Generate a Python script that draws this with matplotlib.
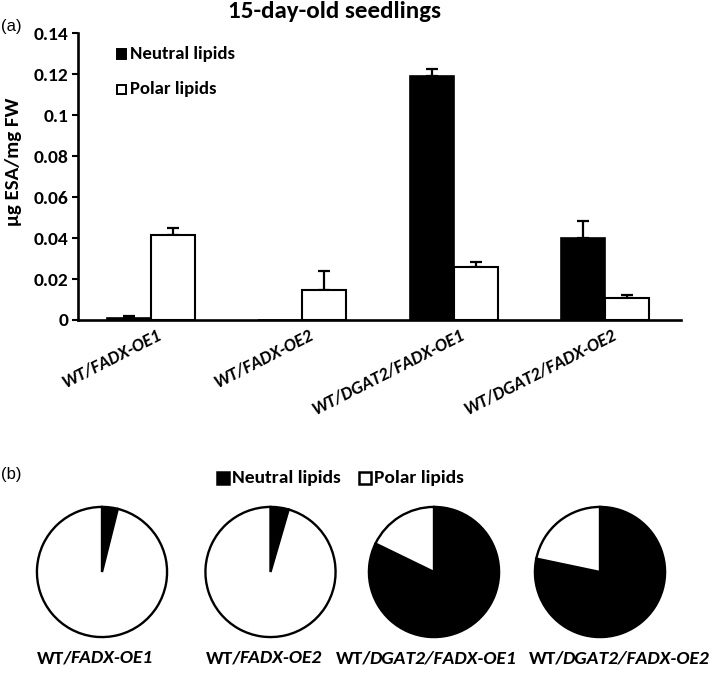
import matplotlib
matplotlib.use("Agg")
import matplotlib.pyplot as plt
import matplotlib.transforms as mtransforms
from matplotlib.patches import Rectangle
import numpy as np

plt.rcParams['font.family'] = ['Carlito', 'DejaVu Sans']

# ---------------- data ----------------
genotypes = ["WT/FADX-OE1", "WT/FADX-OE2", "WT/DGAT2/FADX-OE1", "WT/DGAT2/FADX-OE2"]
neutral = [0.0011, 0.0, 0.1193, 0.0400]
neutral_err = [0.0008, 0.0, 0.0033, 0.0081]
polar = [0.0414, 0.0146, 0.0257, 0.0107]
polar_err = [0.0036, 0.0093, 0.0026, 0.0015]
yticks = [0, 0.02, 0.04, 0.06, 0.08, 0.1, 0.12, 0.14]
ytick_labels = ["0", "0.02", "0.04", "0.06", "0.08", "0.1", "0.12", "0.14"]
pie_neutral_pct = [3.9, 4.5, 82.2, 78.3]
pie_polar_pct = [96.1, 95.5, 17.8, 21.7]
series = ["Neutral lipids", "Polar lipids"]

W, H = 709, 674
fig = plt.figure(figsize=(W / 100, H / 100), dpi=100)

def fx(px):
    return px / W

def fy(py):
    return 1 - py / H

# ---------------- (a) bar chart ----------------
ax = fig.add_axes([fx(77.5), fy(320), fx(681) - fx(77.5), fy(33.3) - fy(320)])
x = np.arange(len(genotypes))
bw = 0.29
ax.bar(x - bw / 2, neutral, width=bw, color="black", edgecolor="black", linewidth=1.2, zorder=2)
ax.bar(x + bw / 2, polar, width=bw, color="white", edgecolor="black", linewidth=1.5, zorder=2)

for xi, v, e in zip(x - bw / 2, neutral, neutral_err):
    if v > 0:
        ax.errorbar(xi, v, yerr=[[0], [e]], fmt="none", ecolor="black", elinewidth=1.6,
                    capsize=4.5, capthick=1.6, zorder=1)
for xi, v, e in zip(x + bw / 2, polar, polar_err):
    if v > 0:
        ax.errorbar(xi, v, yerr=[[0], [e]], fmt="none", ecolor="black", elinewidth=1.6,
                    capsize=4.5, capthick=1.6, zorder=1)

ax.set_xlim(-0.485, 3.5)
ax.set_ylim(0, 0.14)
ax.set_yticks(yticks)
ax.set_yticklabels(ytick_labels, fontsize=14, fontweight="bold")
for s in ["top", "right"]:
    ax.spines[s].set_visible(False)
for s in ["left", "bottom"]:
    ax.spines[s].set_linewidth(1.9)
ax.tick_params(axis="y", length=4, width=1.5, pad=2.5)
ax.tick_params(axis="x", length=0)
ax.set_xticks(x)
ax.set_xticklabels(genotypes, rotation=27, ha="right", va="center", rotation_mode="anchor",
                   fontsize=13, fontweight="bold", fontstyle="italic")
offset = mtransforms.ScaledTranslation(10 / 100, -9 / 100, fig.dpi_scale_trans)
for lab in ax.get_xticklabels():
    lab.set_transform(lab.get_transform() + offset)

# legend (a)
ax_leg_items = [("black", series[0], 54), ("white", series[1], 89)]
for col, txt, py in ax_leg_items:
    fig.patches.append(Rectangle((fx(117), fy(py + 4.5)), fx(9), fy(py - 4.5) - fy(py + 4.5),
                                 facecolor=col, edgecolor="black", linewidth=1.4,
                                 transform=fig.transFigure, figure=fig))
    fig.text(fx(130), fy(py), txt, fontsize=13.5, fontweight="bold", ha="left", va="center")

fig.text(fx(334), fy(12), "15-day-old seedlings", fontsize=18, fontweight="bold",
         ha="center", va="center")
fig.text(fx(11), fy(26), "(a)", fontsize=12, ha="center", va="center",
         family=["Liberation Sans", "DejaVu Sans"])
fig.text(fx(14), fy(162), "μg ESA/mg FW", fontsize=15, fontweight="bold",
         rotation=90, ha="center", va="center")

# ---------------- (b) pies ----------------
fig.text(fx(11), fy(475), "(b)", fontsize=12, ha="center", va="center",
         family=["Liberation Sans", "DejaVu Sans"])

leg_b = [("black", series[0], 217), ("white", series[1], 359)]
for col, txt, px in leg_b:
    fig.patches.append(Rectangle((fx(px), fy(484)), fx(12), fy(472) - fy(484),
                                 facecolor=col, edgecolor="black", linewidth=1.8,
                                 transform=fig.transFigure, figure=fig))
    fig.text(fx(px + 15), fy(478), txt, fontsize=14, fontweight="bold", ha="left", va="center")

pie_cx = [102, 270.5, 434, 600]
pie_cy = 572
R = 65
label_cx = [95, 264, 426, 619]
renderer = fig.canvas.get_renderer()
for i in range(len(genotypes)):
    pa = fig.add_axes([fx(pie_cx[i] - R - 3), fy(pie_cy + R + 3),
                       fx(2 * R + 6), fy(0) - fy(2 * R + 6)])
    pa.pie([pie_neutral_pct[i], pie_polar_pct[i]], colors=["black", "white"],
           startangle=90, counterclock=False, radius=1.0,
           wedgeprops=dict(edgecolor="black", linewidth=1.7, joinstyle="miter"))
    pa.set_xlim(-1.045, 1.045)
    pa.set_ylim(-1.045, 1.045)
    pa.set_aspect("equal")
    pa.axis("off")

    # label: "WT/" upright, remainder italic
    prefix = "WT/"
    rest = genotypes[i][len(prefix):]
    t1 = fig.text(0, fy(658), prefix, fontsize=14, fontweight="bold", ha="left", va="center")
    t2 = fig.text(0, fy(658), rest, fontsize=14, fontweight="bold", fontstyle="italic",
                  ha="left", va="center")
    w1 = t1.get_window_extent(renderer).width - 2
    w2 = t2.get_window_extent(renderer).width
    left = label_cx[i] - (w1 + w2) / 2
    t1.set_x(fx(left))
    t2.set_x(fx(left + w1))

fig.savefig("out.png", dpi=100)
